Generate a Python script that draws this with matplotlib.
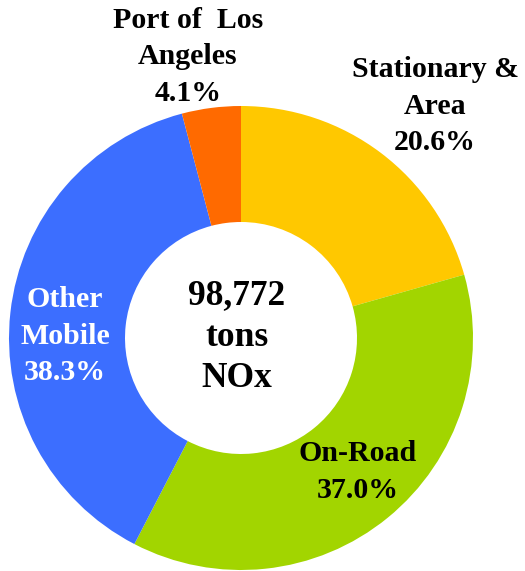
import matplotlib
matplotlib.use("Agg")
import matplotlib.pyplot as plt

categories = ["Stationary &\nArea", "On-Road", "Other\nMobile", "Port of  Los\nAngeles"]
shares = [20.6, 37.0, 38.3, 4.1]
colors = ["#FFC800", "#A2D500", "#3C6EFF", "#FF6A00"]
center_lines = ["98,772", "tons", "NOx"]

W, H = 525, 571
fig = plt.figure(figsize=(W / 100, H / 100), dpi=100)
ax = fig.add_axes([0, 0, 1, 1])

cx, cy = 241, H - 338
R = 232
ax.pie(shares, colors=colors, startangle=90, counterclock=False,
       center=(cx, cy), radius=R, frame=True,
       wedgeprops=dict(width=R * 0.5, linewidth=0))
ax.set_xlim(0, W)
ax.set_ylim(0, H)
ax.set_aspect("equal")
ax.axis("off")

font = dict(family="Liberation Serif", fontweight="bold", fontsize=21.5,
            ha="center", va="center", linespacing=1.45)

# label positions (pixel coords from top-left)
pos = [(435, 106), (358, 472), (65, 336), (188, 57)]
tcolors = ["black", "black", "white", "black"]
for name, val, (px, py), tc in zip(categories, shares, pos, tcolors):
    ax.text(px, H - py, f"{name}\n{val:.1f}%", color=tc, **font)

ax.text(237, H - 337, "\n".join(center_lines), family="Liberation Serif",
        fontweight="bold", fontsize=25.5, ha="center", va="center",
        linespacing=1.34, color="black")

fig.savefig("out.png", dpi=100)
